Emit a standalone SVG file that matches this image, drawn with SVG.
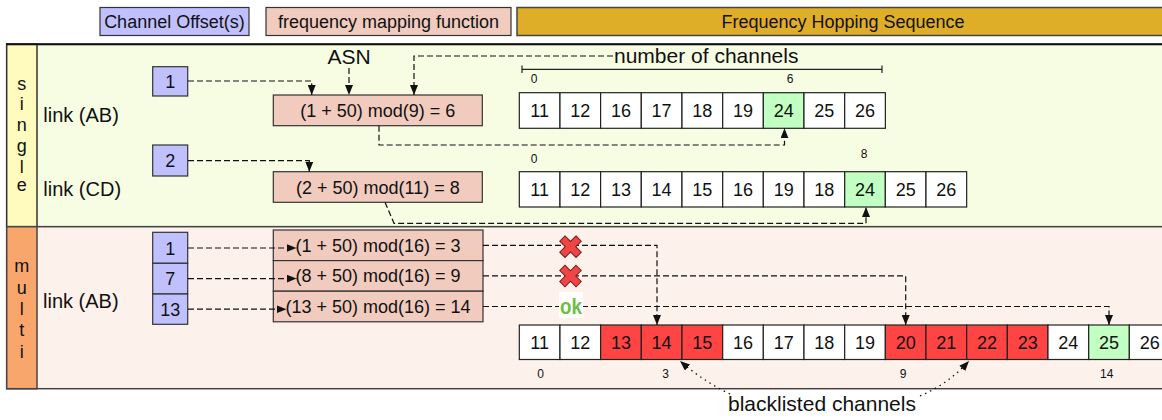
<svg xmlns="http://www.w3.org/2000/svg" width="1162" height="420" viewBox="0 0 1162 420">
<defs>
<style>
text{font-family:"Liberation Sans",Arial,Helvetica,sans-serif;fill:#111}
.leg{font-size:18px;text-anchor:middle}
.lbl{font-size:20px}
.vl{font-size:18px;text-anchor:middle}
.off{fill:#C0C0FF;stroke:#333;stroke-width:1.2}
.fm{fill:#F0CBBE;stroke:#333;stroke-width:1.2}
.cell{fill:#fff;stroke:#222;stroke-width:1.2}
.red{fill:#FF4444}
.grn{fill:#C2FFC2}
.ct{font-size:18px;text-anchor:middle}
.ft{font-size:18px;text-anchor:middle}
.ot{font-size:18px;text-anchor:middle}
.sm{font-size:12px;text-anchor:middle}
.big{font-size:21px;text-anchor:middle}
.dash{fill:none;stroke:#111;stroke-width:1.2;stroke-dasharray:6,3}
.dot{fill:none;stroke:#111;stroke-width:1.3;stroke-dasharray:1.5,4}
.xm{fill:#F04545;stroke:#7a1a1a;stroke-width:1}
</style>
<marker id="ah" viewBox="0 0 10 8" refX="10" refY="4" markerWidth="10" markerHeight="8" markerUnits="userSpaceOnUse" orient="auto"><path d="M0,0L10,4L0,8z" fill="#111"/></marker>
<polygon id="xshape" points="-3.7,-11.5 3.7,-11.5 3.7,-3.7 11.5,-3.7 11.5,3.7 3.7,3.7 3.7,11.5 -3.7,11.5 -3.7,3.7 -11.5,3.7 -11.5,-3.7 -3.7,-3.7"/>
</defs>
<rect x="0" y="0" width="1162" height="420" fill="#fff"/>

<g id="legend">
<rect x="100" y="7.5" width="149" height="28" class="off"/>
<text x="174.5" y="28" class="leg">Channel Offset(s)</text>
<rect x="266" y="7.5" width="245" height="28" class="fm"/>
<text x="388.5" y="28" class="leg">frequency mapping function</text>
<rect x="517" y="7.5" width="660" height="28" fill="#DEAE28" stroke="#444" stroke-width="1.5"/>
<text x="843" y="28" class="leg">Frequency Hopping Sequence</text>
</g>

<g id="single-panel">
<rect x="6.7" y="44.3" width="1170" height="182.4" fill="#F7FDE3" stroke="#333" stroke-width="1.5"/>
<rect x="6.7" y="44.3" width="30.3" height="182.4" fill="#FFFBBE" stroke="#333" stroke-width="1.5"/>
<line x1="6" y1="44.3" x2="1162" y2="44.3" stroke="#111" stroke-width="2"/>
<text x="21.8" y="90" class="vl">s</text>
<text x="21.8" y="110" class="vl">i</text>
<text x="21.8" y="131" class="vl">n</text>
<text x="21.8" y="152" class="vl">g</text>
<text x="21.8" y="172.5" class="vl">l</text>
<text x="21.8" y="191" class="vl">e</text>
</g>

<g id="multi-panel">
<rect x="6.7" y="226.7" width="1170" height="162" fill="#FDF1EC" stroke="#444" stroke-width="1.5"/>
<rect x="6.7" y="226.7" width="30.3" height="162" fill="#F9A66D" stroke="#444" stroke-width="1.5"/>
<text x="21.8" y="272" class="vl">m</text>
<text x="21.8" y="294" class="vl">u</text>
<text x="21.8" y="315" class="vl">l</text>
<text x="21.8" y="336" class="vl">t</text>
<text x="21.8" y="358" class="vl">i</text>
</g>

<g id="link-ab-label"><text x="43.3" y="121.5" class="lbl">link (AB)</text></g>
<g id="link-cd-label"><text x="43.3" y="196" class="lbl">link (CD)</text></g>
<g id="link-ab-multi-label"><text x="43" y="308" class="lbl">link (AB)</text></g>

<g id="asn"><text x="349" y="64" class="big">ASN</text></g>
<g id="nchan"><text x="614" y="63" font-size="21">number of channels</text></g>
<g id="scale-bar" stroke="#222" stroke-width="1.2">
<line x1="522" y1="69.3" x2="882" y2="69.3"/>
<line x1="522" y1="65.5" x2="522" y2="73"/>
<line x1="882" y1="65.5" x2="882" y2="73"/>
</g>

<g id="off-1"><rect x="152.7" y="66.7" width="35" height="29.3" class="off"/><text x="170.2" y="88" class="ot">1</text></g>
<g id="off-2"><rect x="152.7" y="145" width="35" height="31" class="off"/><text x="170.2" y="167" class="ot">2</text></g>
<g id="off-multi">
<rect x="152.7" y="232.3" width="35" height="31" class="off"/><text x="170.2" y="254.5" class="ot">1</text>
<rect x="152.7" y="263.3" width="35" height="30.7" class="off"/><text x="170.2" y="285.3" class="ot">7</text>
<rect x="152.7" y="294" width="35" height="30.3" class="off"/><text x="170.2" y="316" class="ot">13</text>
</g>

<g id="fm-1"><rect x="273.3" y="95" width="209" height="30.7" class="fm"/><text x="377.8" y="116.8" class="ft">(1 + 50) mod(9) = 6</text></g>
<g id="fm-2"><rect x="273.3" y="171.7" width="209" height="30.6" class="fm"/><text x="377.8" y="193.5" class="ft">(2 + 50) mod(11) = 8</text></g>
<g id="fm-multi">
<rect x="273.3" y="230" width="209.7" height="30.6" class="fm"/><text x="378" y="251.8" class="ft">(1 + 50) mod(16) = 3</text>
<rect x="273.3" y="260.6" width="209.7" height="30.6" class="fm"/><text x="378" y="282.4" class="ft">(8 + 50) mod(16) = 9</text>
<rect x="273.3" y="291.2" width="209.7" height="30.6" class="fm"/><text x="378" y="313" class="ft">(13 + 50) mod(16) = 14</text>
</g>

<g id="seq-ab">
<rect x="519.3" y="92.7" width="40.67" height="35.6" class="cell"/><text x="539.6" y="117" class="ct">11</text>
<rect x="560" y="92.7" width="40.67" height="35.6" class="cell"/><text x="580.3" y="117" class="ct">12</text>
<rect x="600.6" y="92.7" width="40.67" height="35.6" class="cell"/><text x="621" y="117" class="ct">16</text>
<rect x="641.3" y="92.7" width="40.67" height="35.6" class="cell"/><text x="661.6" y="117" class="ct">17</text>
<rect x="682" y="92.7" width="40.67" height="35.6" class="cell"/><text x="702.3" y="117" class="ct">18</text>
<rect x="722.7" y="92.7" width="40.67" height="35.6" class="cell"/><text x="743" y="117" class="ct">19</text>
<rect x="763.3" y="92.7" width="40.67" height="35.6" class="cell grn"/><text x="783.7" y="117" class="ct">24</text>
<rect x="804" y="92.7" width="40.67" height="35.6" class="cell"/><text x="824.3" y="117" class="ct">25</text>
<rect x="844.7" y="92.7" width="40.67" height="35.6" class="cell"/><text x="865" y="117" class="ct">26</text>
<text x="534" y="83" class="sm">0</text>
<text x="790" y="83" class="sm">6</text>
</g>

<g id="seq-cd">
<rect x="519.3" y="171.7" width="40.67" height="35.3" class="cell"/><text x="539.6" y="196" class="ct">11</text>
<rect x="560" y="171.7" width="40.67" height="35.3" class="cell"/><text x="580.3" y="196" class="ct">12</text>
<rect x="600.6" y="171.7" width="40.67" height="35.3" class="cell"/><text x="621" y="196" class="ct">13</text>
<rect x="641.3" y="171.7" width="40.67" height="35.3" class="cell"/><text x="661.6" y="196" class="ct">14</text>
<rect x="682" y="171.7" width="40.67" height="35.3" class="cell"/><text x="702.3" y="196" class="ct">15</text>
<rect x="722.7" y="171.7" width="40.67" height="35.3" class="cell"/><text x="743" y="196" class="ct">16</text>
<rect x="763.3" y="171.7" width="40.67" height="35.3" class="cell"/><text x="783.7" y="196" class="ct">19</text>
<rect x="804" y="171.7" width="40.67" height="35.3" class="cell"/><text x="824.3" y="196" class="ct">18</text>
<rect x="844.7" y="171.7" width="40.67" height="35.3" class="cell grn"/><text x="865" y="196" class="ct">24</text>
<rect x="885.3" y="171.7" width="40.67" height="35.3" class="cell"/><text x="905.7" y="196" class="ct">25</text>
<rect x="926" y="171.7" width="40.67" height="35.3" class="cell"/><text x="946.3" y="196" class="ct">26</text>
<text x="534" y="163" class="sm">0</text>
<text x="864" y="158" class="sm">8</text>
</g>

<g id="seq-multi">
<rect x="519.3" y="325" width="40.67" height="34.5" class="cell"/><text x="539.6" y="348.8" class="ct">11</text>
<rect x="560" y="325" width="40.67" height="34.5" class="cell"/><text x="580.3" y="348.8" class="ct">12</text>
<rect x="600.6" y="325" width="40.67" height="34.5" class="cell red"/><text x="621" y="348.8" class="ct">13</text>
<rect x="641.3" y="325" width="40.67" height="34.5" class="cell red"/><text x="661.6" y="348.8" class="ct">14</text>
<rect x="682" y="325" width="40.67" height="34.5" class="cell red"/><text x="702.3" y="348.8" class="ct">15</text>
<rect x="722.7" y="325" width="40.67" height="34.5" class="cell"/><text x="743" y="348.8" class="ct">16</text>
<rect x="763.3" y="325" width="40.67" height="34.5" class="cell"/><text x="783.7" y="348.8" class="ct">17</text>
<rect x="804" y="325" width="40.67" height="34.5" class="cell"/><text x="824.3" y="348.8" class="ct">18</text>
<rect x="844.7" y="325" width="40.67" height="34.5" class="cell"/><text x="865" y="348.8" class="ct">19</text>
<rect x="885.3" y="325" width="40.67" height="34.5" class="cell red"/><text x="905.7" y="348.8" class="ct">20</text>
<rect x="926" y="325" width="40.67" height="34.5" class="cell red"/><text x="946.3" y="348.8" class="ct">21</text>
<rect x="966.7" y="325" width="40.67" height="34.5" class="cell red"/><text x="987" y="348.8" class="ct">22</text>
<rect x="1007.3" y="325" width="40.67" height="34.5" class="cell red"/><text x="1027.7" y="348.8" class="ct">23</text>
<rect x="1048" y="325" width="40.67" height="34.5" class="cell"/><text x="1068.3" y="348.8" class="ct">24</text>
<rect x="1088.7" y="325" width="40.67" height="34.5" class="cell grn"/><text x="1109" y="348.8" class="ct">25</text>
<rect x="1129.3" y="325" width="40.67" height="34.5" class="cell"/><text x="1149.7" y="348.8" class="ct">26</text>
<text x="540.7" y="378.3" class="sm">0</text>
<text x="665.7" y="378.3" class="sm">3</text>
<text x="903" y="378.3" class="sm">9</text>
<text x="1106.7" y="378.3" class="sm">14</text>
</g>

<g id="connectors">
<path class="dash" d="M188 81H311.7V95" marker-end="url(#ah)"/>
<path class="dash" d="M349 68V95" marker-end="url(#ah)"/>
<path class="dash" d="M613 56H414V95" marker-end="url(#ah)"/>
<path class="dash" d="M379 125.7V145H784.5V128.3" marker-end="url(#ah)"/>
<path class="dash" d="M188 160.7H309.3V171.7" marker-end="url(#ah)"/>
<path class="dash" d="M385 202.3L394 223.3H866V207" marker-end="url(#ah)"/>
<path class="dash" d="M188 248H296.5" marker-end="url(#ah)"/>
<path class="dash" d="M188 278.6H296.5" marker-end="url(#ah)"/>
<path class="dash" d="M188 309.2H286.5" marker-end="url(#ah)"/>
<path class="dash" d="M483 245.3H657V325" marker-end="url(#ah)"/>
<path class="dash" d="M483 275.9H905.7V325" marker-end="url(#ah)"/>
<path class="dash" d="M483 306.5H1109V325" marker-end="url(#ah)"/>
<path class="dot" d="M730 394Q703 381 680 361" marker-end="url(#ah)"/>
<path class="dot" d="M920 396Q948 384 969 361" marker-end="url(#ah)"/>
</g>

<g id="status-1"><use href="#xshape" class="xm" transform="translate(570.5,246.7) rotate(45)"/></g>
<g id="status-2"><use href="#xshape" class="xm" transform="translate(570.5,276) rotate(45)"/></g>
<g id="status-3"><rect x="559" y="292" width="24" height="26" fill="#fff"/><text x="571" y="314" font-size="22" font-weight="bold" text-anchor="middle" textLength="22" lengthAdjust="spacingAndGlyphs" style="fill:#6CBE45">ok</text></g>

<g id="blacklisted"><text x="822" y="411" class="big">blacklisted channels</text></g>
</svg>
